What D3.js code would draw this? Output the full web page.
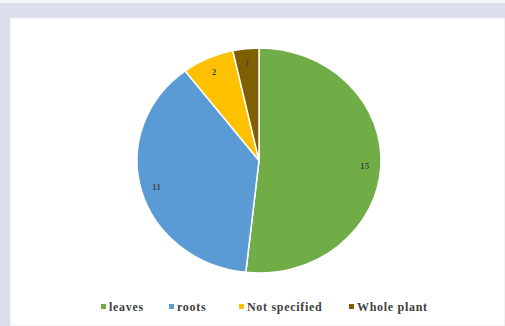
<!DOCTYPE html>
<html>
<head>
<meta charset="utf-8">
<script src="https://cdn.jsdelivr.net/npm/d3@7"></script>
<style>
  html, body { margin: 0; padding: 0; background: #ffffff; }
  svg { display: block; }
</style>
</head>
<body>
<svg id="chart" width="505" height="326"></svg>
<script>
// Plant part used, count of entries
const categories = ["leaves", "roots", "Not specified", "Whole plant"];
const counts = [15, 11, 2, 1];
const colors = ["#70AD47", "#5B9BD5", "#FFC000", "#7F6000"];

const svg = d3.select("#chart");
const W = 505, H = 326;

// Frame: lavender surround with white chart area
svg.append("rect").attr("x", 0).attr("y", 0).attr("width", W).attr("height", H).attr("fill", "#f4f4f9");
svg.append("rect").attr("x", 0).attr("y", 3).attr("width", W).attr("height", H - 3).attr("fill", "#dcdeec");
svg.append("rect").attr("x", 10).attr("y", 18).attr("width", W - 10).attr("height", H - 18)
  .attr("fill", "#ffffff").attr("stroke", "#e6e6ee").attr("stroke-width", 1);

// Pie (slightly wider than tall)
const cx = 259, cy = 160.5, ry = 112.5, rx = 122;
const sx = rx / ry;

const pie = d3.pie().sort(null).value(d => d)(counts);
const arc = d3.arc().innerRadius(0).outerRadius(ry);

const g = svg.append("g").attr("transform", `translate(${cx},${cy})`);
const slices = g.append("g").attr("transform", `scale(${sx},1)`);
slices.selectAll("path")
  .data(pie)
  .join("path")
  .attr("d", arc)
  .attr("fill", (d, i) => colors[i])
  .attr("stroke", "#ffffff")
  .attr("stroke-width", 1.5)
  .attr("vector-effect", "non-scaling-stroke");

// Data labels placed at 87% of the radius along each slice's mid-angle
g.selectAll("text.lbl")
  .data(pie)
  .join("text")
  .attr("class", "lbl")
  .attr("x", d => Math.sin((d.startAngle + d.endAngle) / 2) * rx * 0.87)
  .attr("y", d => -Math.cos((d.startAngle + d.endAngle) / 2) * ry * 0.87 + 3)
  .attr("text-anchor", "middle")
  .attr("font-family", "Liberation Serif, serif")
  .attr("font-size", 8.5)
  .attr("font-weight", "bold")
  .attr("letter-spacing", 0.5)
  .attr("fill", "#404040")
  .text(d => d.data);

// Legend
const legendX = [101, 169, 239, 349];
const legend = svg.append("g");
categories.forEach((c, i) => {
  const item = legend.append("g").attr("transform", `translate(${legendX[i]},307)`);
  item.append("rect").attr("x", 0).attr("y", -3).attr("width", 5).attr("height", 5).attr("fill", colors[i]);
  item.append("text")
    .attr("x", 8).attr("y", 3.5)
    .attr("font-family", "Liberation Serif, serif")
    .attr("font-size", 12)
    .attr("font-weight", "bold")
    .attr("letter-spacing", 0.7)
    .attr("fill", "#404040")
    .text(c);
});
</script>
</body>
</html>
